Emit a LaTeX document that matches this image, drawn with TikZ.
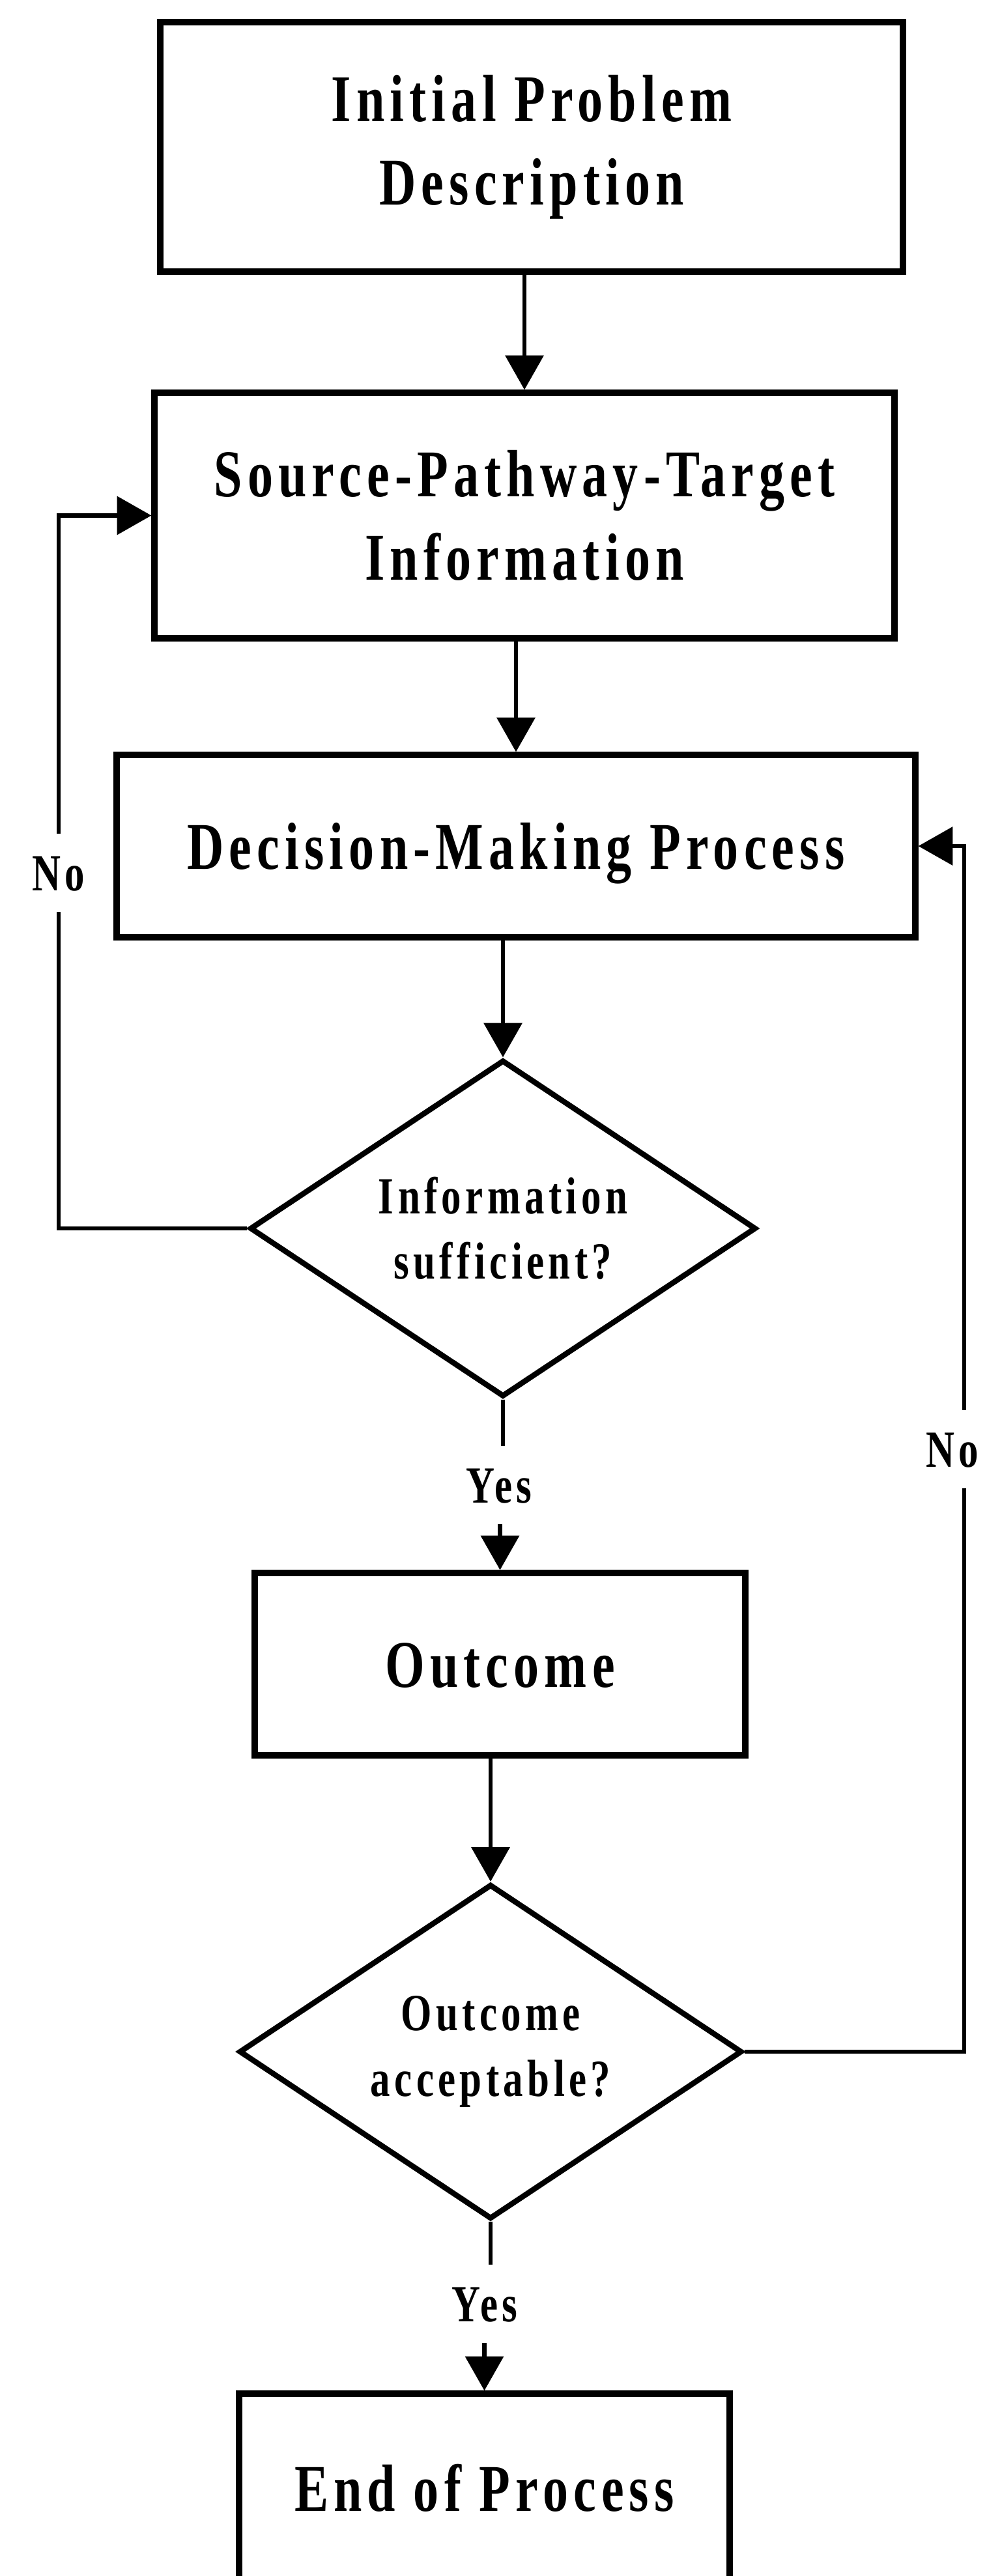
\documentclass[tikz,border=0pt]{standalone}
\usepackage{fontspec}
\setmainfont{Liberation Serif}
% narrow, spaced bold serif used throughout the chart
\newfontfamily\chartfont{Liberation Serif}[FakeStretch=0.76,LetterSpace=8]
\newcommand\boxfont{\chartfont\bfseries\fontsize{29.2pt}{36.5pt}\selectfont}
\newcommand\smallfont{\chartfont\bfseries\fontsize{22.8pt}{28.5pt}\selectfont}
\usetikzlibrary{shapes.geometric,arrows.meta}

\tikzset{
  stepbox/.style={draw, rectangle, line width=2.6pt, inner sep=0pt,
                  align=center, font=\boxfont},
  onebox/.style={stepbox, text height=0.70cm, text depth=0pt},
  decision/.style={draw, diamond, line width=2.4pt, inner sep=0pt,
                   shape aspect=1.5, align=center, font=\smallfont},
  lbl/.style={font=\smallfont, inner xsep=0pt, inner ysep=0.32cm,
              text height=0.55cm, text depth=0pt},
  conn/.style={line width=1.9pt},
  flow/.style={conn, -{Triangle[length=15pt,width=16.5pt]}}
}

\begin{document}
\begin{tikzpicture}
  \useasboundingbox (0,0) rectangle (15.14,-39.55);
  \fill[white] (0,0) rectangle (15.14,-39.55);
  \clip (0,0) rectangle (15.14,-39.55);

  % process boxes and decisions
  \node[stepbox, minimum width=11.40cm, minimum height=3.83cm] (b1) at (8.16,-2.255)
    {Initial Problem\\Description};
  \node[stepbox, minimum width=11.36cm, minimum height=3.77cm] (b2) at (8.05,-7.915)
    {Source-Pathway-Target\\Information};
  \node[onebox, minimum width=12.26cm, minimum height=2.80cm] (b3) at (7.92,-12.99)
    {Decision-Making Process};
  \node[decision, minimum width=7.77cm, minimum height=5.17cm] (d1) at (7.72,-18.86)
    {Information\\sufficient?};
  \node[onebox, minimum width=7.53cm, minimum height=2.80cm] (b4) at (7.675,-25.55)
    {Outcome};
  \node[decision, minimum width=7.72cm, minimum height=5.14cm] (d2) at (7.53,-31.50)
    {Outcome\\acceptable?};
  \node[onebox, minimum width=7.53cm, minimum height=2.90cm] (b5) at (7.435,-38.20)
    {End of Process};

  % branch labels
  \node[lbl] (noL)  at (0.90,-13.40)  {No};
  \node[lbl] (yes1) at (7.66,-22.80)  {Yes};
  \node[lbl] (noR)  at (14.62,-22.25) {No};
  \node[lbl] (yes2) at (7.44,-35.37)  {Yes};

  % x position of the right-hand return line
  \coordinate (rline) at (14.80,0);

  % main flow
  \draw[flow] (b1.south -| b2.north) -- (b2.north);
  \draw[flow] (b2.south -| b3.north) -- (b3.north);
  \draw[flow] (b3.south -| d1.north) -- (d1.north);
  \draw[conn] (d1.south) -- (d1.south |- yes1.north);
  \draw[flow] (yes1.south -| b4.north) -- (b4.north);
  \draw[flow] (b4.south -| d2.north) -- (d2.north);
  \draw[conn] (d2.south) -- (d2.south |- yes2.north);
  \draw[flow] (yes2.south -| b5.north) -- (b5.north);

  % feedback loops
  \draw[conn] (d1.west) -| (noL.south);
  \draw[flow] (noL.north) |- (b2.west);
  \draw[conn] (d2.east) -| (rline |- noR.south);
  \draw[flow] (rline |- noR.north) |- (b3.east);
\end{tikzpicture}
\end{document}
